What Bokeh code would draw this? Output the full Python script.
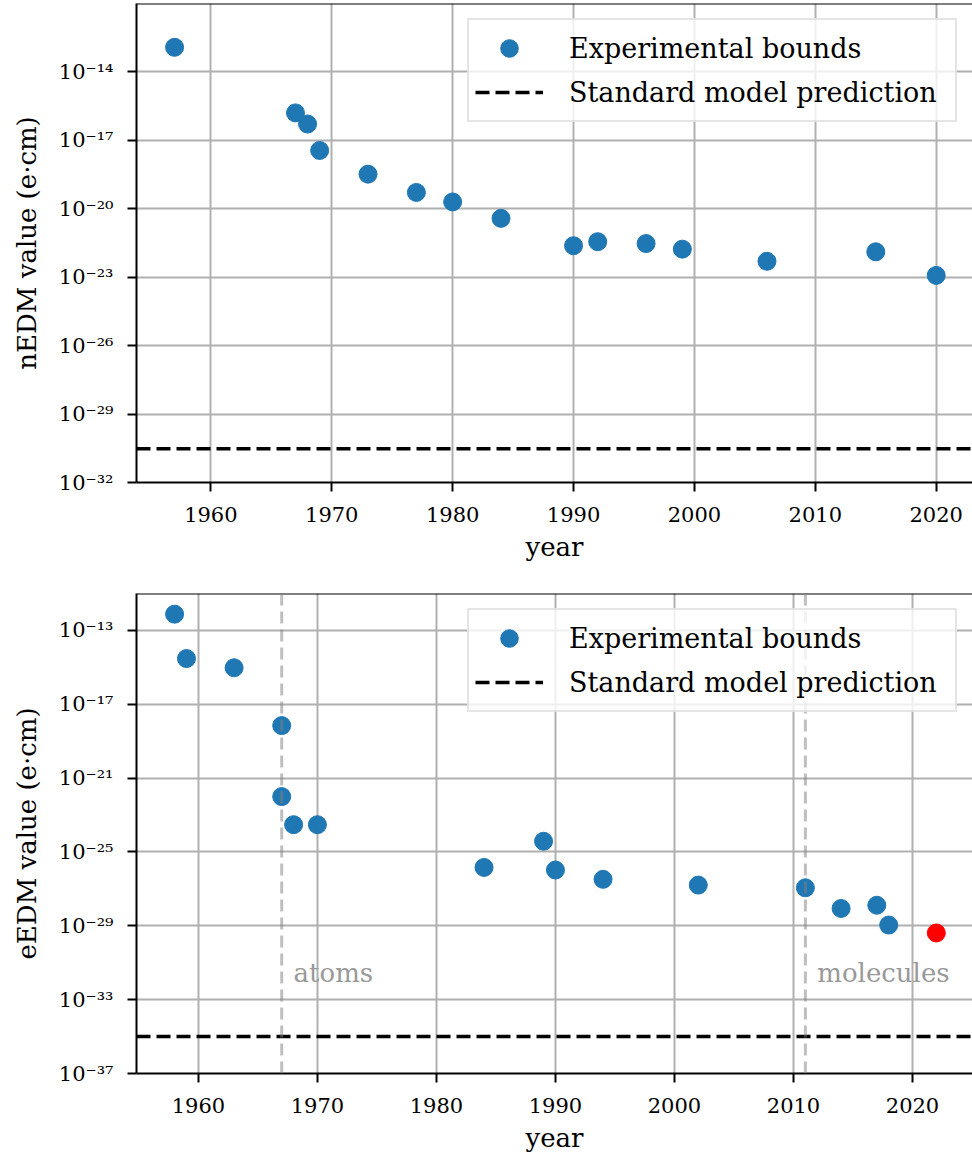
from bokeh.plotting import figure
from bokeh.models import FixedTicker, CustomJSTickFormatter, Span
from bokeh.layouts import column
from bokeh.embed import file_html
from bokeh.resources import INLINE
from bokeh.core.properties import value

# ---------------- data ----------------
# neutron EDM
n_years = [1957, 1967, 1968, 1969, 1973, 1977, 1980, 1984, 1990, 1992, 1996, 1999, 2006, 2015, 2020]
n_values = [1.2e-13, 1.6e-16, 5.2e-17, 3.6e-18, 3.3e-19, 5.2e-20, 2.0e-20, 3.8e-21,
            2.4e-22, 3.6e-22, 3.0e-22, 1.7e-22, 5.0e-23, 1.3e-22, 1.2e-23]
n_sm = 3e-31
n_yticks = [1e-32, 1e-29, 1e-26, 1e-23, 1e-20, 1e-17, 1e-14]

# electron EDM
e_years = [1958, 1959, 1963, 1967, 1967, 1968, 1970, 1984, 1989, 1990, 1994, 2002, 2011, 2014, 2017, 2018]
e_values = [7.6e-13, 3.0e-15, 9.5e-16, 7.0e-19, 1.0e-22, 3.0e-24, 3.0e-24, 1.45e-26,
            3.8e-25, 1.05e-26, 3.3e-27, 1.6e-27, 1.15e-27, 8.7e-29, 1.3e-28, 1.1e-29]
e_latest_years = [2022]
e_latest_values = [4.1e-30]
e_sm = 1e-35
e_yticks = [1e-37, 1e-33, 1e-29, 1e-25, 1e-21, 1e-17, 1e-13]

x_ticks = [1960, 1970, 1980, 1990, 2000, 2010, 2020]
era_years = [1967, 2011]
era_labels = ["atoms", "molecules"]
era_label_years = [1968, 2012]
era_label_value = 1e-32

# ---------------- styling ----------------
FONT = "DejaVu Serif"
BLUE = "#1f77b4"

SUP_JS = """
const sup = {"-":"\u207b","0":"\u2070","1":"\u00b9","2":"\u00b2","3":"\u00b3","4":"\u2074",
             "5":"\u2075","6":"\u2076","7":"\u2077","8":"\u2078","9":"\u2079"};
const e = Math.round(Math.log10(tick));
return "10" + String(e).split("").map(c => sup[c]).join("");
"""


def make_fig(height, top_b, bottom_b, xr, yr, yticks, ylabel):
    p = figure(width=972, height=height, x_range=xr, y_range=yr, y_axis_type="log",
               output_backend="svg", toolbar_location=None,
               min_border_left=136, min_border_right=0,
               min_border_top=top_b, min_border_bottom=bottom_b)
    p.outline_line_color = None
    p.background_fill_color = "white"
    p.border_fill_color = "white"

    for ax in (p.xaxis[0], p.yaxis[0]):
        ax.axis_line_width = 2
        ax.axis_line_color = "black"
        ax.major_tick_line_width = 2
        ax.major_tick_line_color = "black"
        ax.major_tick_out = 9
        ax.major_tick_in = 0
        ax.minor_tick_line_color = None
        ax.major_label_text_font = FONT
        ax.major_label_text_font_size = "21px"
        ax.major_label_text_color = "black"
        ax.axis_label_text_font = FONT
        ax.axis_label_text_font_size = "26px"
        ax.axis_label_text_font_style = "normal"
        ax.axis_label_text_color = "black"

    p.xaxis.ticker = FixedTicker(ticks=x_ticks)
    p.yaxis.ticker = FixedTicker(ticks=yticks)
    p.yaxis.formatter = CustomJSTickFormatter(code=SUP_JS)
    p.xaxis.axis_label = "year"
    p.yaxis.axis_label = ylabel
    p.xaxis.major_label_standoff = 15
    p.xaxis.axis_label_standoff = 7
    p.yaxis.major_label_standoff = 14
    p.yaxis.axis_label_standoff = 14

    for g in (p.xgrid[0], p.ygrid[0]):
        g.grid_line_color = "#b0b0b0"
        g.grid_line_width = 2

    # top spine
    p.add_layout(Span(location=yr[1], dimension="width", line_color="black", line_width=2))
    return p


def style_legend(p):
    lg = p.legend[0]
    lg.location = "top_right"
    lg.margin = 15
    lg.label_text_font = FONT
    lg.label_text_font_size = "27px"
    lg.label_text_color = "black"
    lg.glyph_width = 68
    lg.glyph_height = 44
    lg.label_height = 44
    lg.label_width = 380
    lg.label_standoff = 26
    lg.padding = 6
    lg.spacing = 0
    lg.border_line_color = "#cccccc"
    lg.border_line_width = 2
    lg.background_fill_color = "white"
    lg.background_fill_alpha = 0.8


# ---------------- top: nEDM ----------------
xr1 = (1953.85, 2023.0)
p1 = make_fig(580, 3, 98, xr1, (1e-32, 1e-11), n_yticks, "nEDM value (e\u00b7cm)")
p1.scatter(n_years, n_values, size=18, color=BLUE, legend_label="Experimental bounds")
p1.line(x=list(xr1), y=[n_sm, n_sm], line_color="black", line_width=3.5,
        line_dash="14 6", legend_label="Standard model prediction")
style_legend(p1)

# ---------------- bottom: eEDM ----------------
xr2 = (1954.8, 2025.04)
p2 = make_fig(579, 13, 86, xr2, (1e-37, 1e-11), e_yticks, "eEDM value (e\u00b7cm)")
for yr_ in era_years:
    p2.add_layout(Span(location=yr_, dimension="height", line_color="gray",
                       line_alpha=0.5, line_width=3, line_dash="12 6"))
p2.scatter(e_years, e_values, size=18, color=BLUE, legend_label="Experimental bounds")
p2.scatter(e_latest_years, e_latest_values, size=18, color="red")
p2.line(x=list(xr2), y=[e_sm, e_sm], line_color="black", line_width=3.5,
        line_dash="14 6", legend_label="Standard model prediction")
p2.text(x=era_label_years, y=[era_label_value] * len(era_label_years), text=era_labels,
        text_font=value(FONT), text_font_size="26px", text_color="#999999",
        text_baseline="alphabetic", text_align="left", y_offset=-8)
style_legend(p2)

layout = column(p1, p2, spacing=0)
open("out.html", "w").write(file_html(layout, INLINE))
